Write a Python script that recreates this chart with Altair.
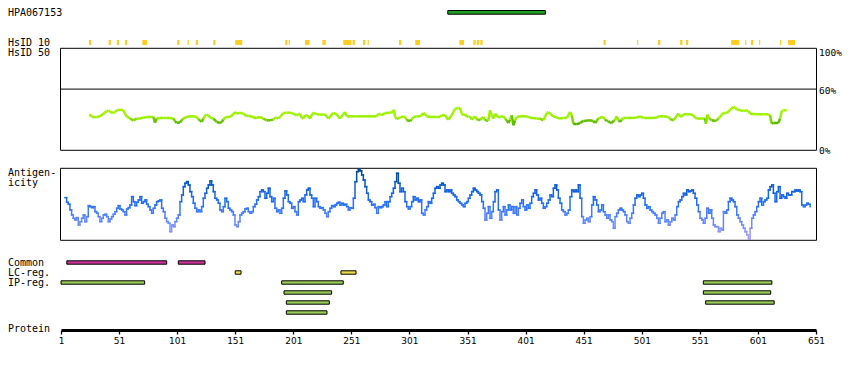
import altair as alt
import numpy as np
import pandas as pd

# ---------------- data ----------------
tick_values = [1, 51, 101, 151, 201, 251, 301, 351, 401, 451, 501, 551, 601, 651]

hpa_name = "HPA067153"
hpa_start, hpa_end = 334, 418

hsid10_start = [25, 42, 49, 56, 71, 101, 110, 117, 132, 151, 194, 197, 211, 226, 244, 252, 261, 265,
                292, 306, 344, 356, 359, 362, 468, 497, 515, 534, 539, 578, 590, 595, 602, 620, 627]
hsid10_end = [27, 44, 51, 58, 75, 103, 111, 119, 134, 157, 196, 198, 215, 229, 251, 254, 263, 266,
              294, 310, 348, 358, 361, 364, 470, 498, 517, 536, 541, 585, 591, 597, 603, 621, 633]

identity_pos = [
    25.4, 27.4, 30.3, 31.7, 34.6, 37.5, 40.3, 41.8, 43.2, 46.1, 47.5, 48.9, 51.8, 54.7, 56.1, 57.5,
    60.4, 63.3, 66.2, 69.0, 71.9, 74.8, 77.6, 80.5, 81.9, 83.4, 86.2, 89.1, 92.0, 94.8, 97.7, 99.2,
    100.6, 103.5, 104.9, 106.3, 109.2, 112.1, 115.0, 117.8, 119.2, 120.7, 122.1, 123.6, 125.0, 126.4,
    127.9, 129.3, 132.2, 135.0, 137.9, 139.3, 140.8, 142.2, 143.6, 146.5, 149.4, 150.8, 152.2, 155.1,
    158.0, 160.9, 162.3, 163.7, 166.6, 168.0, 169.5, 172.3, 175.2, 178.1, 181.0, 183.8, 185.3, 186.7,
    188.1, 189.6, 192.4, 195.3, 198.2, 201.0, 203.9, 206.8,
    208.2, 209.6, 211.1, 212.5, 214.0, 215.4, 216.8, 218.3, 221.1, 224.0,
    226.9, 228.3, 229.7, 231.2, 232.6, 234.1, 235.5, 238.4, 239.8, 241.2,
    242.7, 244.1, 245.5, 247.0, 255.6, 272.8, 274.2, 275.7, 277.1, 280.0,
    284.3, 287.1, 287.7, 288.6, 290.0, 292.9, 295.8, 297.2, 298.6, 301.5,
    302.9, 304.4, 307.2, 310.1, 311.5, 313.0, 314.4, 315.8, 318.7, 324.4,
    327.3, 328.7, 331.6, 333.1, 334.5, 335.9, 337.4, 338.8, 340.2, 343.1,
    344.5, 346.0, 347.4, 348.8, 350.3, 351.7, 353.1, 354.6, 356.0, 357.5,
    358.9, 360.3, 361.8, 363.2, 364.6, 366.1, 367.5, 368.9, 370.4, 371.8,
    373.2, 374.7, 376.1, 377.5, 379.0, 381.9, 383.3, 384.7, 386.2, 387.6,
    389.0, 390.5, 391.9, 393.3, 396.2, 402.0, 403.4, 404.8, 410.6, 413.4,
    416.3, 417.7, 419.2, 420.6, 422.0, 424.9, 427.8, 430.6,
    433.5, 436.4, 437.8, 439.3, 440.7, 442.1, 445.0, 447.9, 450.7, 456.5,
    459.3, 460.8, 462.2, 463.6, 465.1, 467.9, 469.4, 470.8, 472.3, 473.7,
    475.1, 476.6, 478.0, 479.4, 480.9, 482.3, 483.7, 485.2, 488.0, 496.6,
    499.5, 502.4, 508.1, 513.9, 515.3, 519.6, 523.9, 525.3, 526.8, 528.2,
    529.7, 531.1, 532.5, 534.0, 535.4, 536.8, 542.6, 545.4, 546.9, 548.3,
    555.5, 556.3, 557.5, 559.2, 561.2, 564.1, 565.5, 566.9, 568.4, 569.8,
    571.3, 574.1, 575.6, 577.0, 578.4, 579.9, 581.3, 582.8, 585.6, 588.5,
    591.4, 592.8, 594.2, 600.0, 605.7, 610.0, 611.4, 612.9, 614.3, 618.6,
    620.1, 621.5, 622.9, 625.8,
]
identity_pct = [
    35.0, 33.3, 32.0, 32.7, 33.3, 35.9, 38.2, 39.2, 37.6, 36.6, 37.6, 39.2, 39.9, 39.2, 35.9, 33.3,
    31.1, 29.4, 31.1, 31.1, 32.0, 32.7, 32.7, 32.7, 27.0, 31.1, 31.7, 31.7, 31.7, 31.7, 31.1, 28.8,
    26.8, 27.4, 29.4, 31.1, 32.7, 33.3, 33.3, 32.7, 30.4, 29.4, 27.8, 31.1, 34.3, 35.0,
    34.3, 32.0, 31.1, 27.8, 26.8, 27.8, 30.1, 32.0, 32.7, 32.7, 35.3, 37.6, 35.9, 36.9,
    35.9, 33.3, 34.3, 33.3, 32.7, 31.1, 32.0, 32.7, 31.1, 29.4, 29.4, 30.1, 32.0, 32.0,
    31.1, 32.7, 36.6, 36.9, 36.9, 35.9, 34.3, 35.9,
    32.0, 31.1, 34.3, 34.3, 33.3, 31.1, 34.3, 36.9, 35.3, 35.0,
    35.0, 35.0, 33.3, 31.1, 32.7, 35.3, 36.6, 35.3, 32.7, 31.1,
    33.3, 35.3, 37.6, 33.3, 33.3, 33.3, 35.9, 35.3, 34.3, 36.6,
    36.9, 37.6, 39.9, 32.7, 30.7, 32.0, 33.3, 32.7, 29.4, 28.8,
    30.1, 32.7, 33.3, 33.3, 34.3, 36.6, 35.3, 33.3, 32.7, 32.7,
    32.7, 34.3, 34.3, 32.0, 30.1, 32.0, 34.3, 37.6, 40.8, 41.5,
    41.5, 35.9, 34.3, 35.3, 33.3, 32.7, 33.3, 30.1, 31.7, 33.3,
    30.7, 29.4, 30.1, 31.1, 32.7, 29.4, 29.4, 28.8, 39.2, 34.3,
    31.1, 35.9, 34.3, 32.0, 32.7, 33.3, 31.1, 29.4, 26.8, 30.1,
    34.3, 24.5, 29.4, 32.7, 33.3, 33.3, 32.7, 32.0, 31.1, 31.1,
    29.4, 32.7, 36.6, 37.6, 35.9, 33.3, 32.0, 31.1,
    31.7, 31.7, 34.3, 37.6, 34.3, 26.1, 25.5, 26.8, 28.8, 29.4,
    28.8, 26.8, 28.8, 31.1, 32.0, 32.7, 30.1, 28.8, 28.8, 26.8,
    26.8, 28.8, 29.4, 33.3, 29.4, 27.8, 30.1, 31.7, 31.7, 32.0,
    33.3, 31.7, 31.7, 32.0, 33.3, 33.3, 32.7, 31.1, 29.4, 30.1,
    31.1, 34.3, 35.9, 33.3, 32.7, 35.3, 35.3, 34.3, 32.0, 31.1,
    31.1, 26.1, 35.0, 31.1, 29.4, 28.8, 29.4, 31.1, 32.7, 35.0,
    36.6, 36.6, 37.6, 39.9, 40.8, 42.5, 41.8, 39.9, 39.2, 38.6,
    39.2, 38.6, 35.9, 35.3, 35.3, 35.3, 34.3, 26.1, 26.8, 26.8,
    31.1, 38.6, 39.2, 39.2,
]

# antigenicity profile (arbitrary units), sampled evenly from residue 4.4 to 645.9
antigen_first, antigen_last = 4.4, 645.9
antigen_values = [
    128, 114, 108, 91, 76, 66, 61, 68, 46, 56, 66, 76, 56, 71, 104, 101, 98, 101, 86, 81,
    71, 56, 66, 76, 78, 71, 56, 64, 71, 78, 86, 96, 104, 94, 91, 86, 76, 94, 98, 106,
    131, 116, 104, 114, 121, 131, 111, 116, 121, 108, 101, 91, 81, 96, 106, 116, 118, 121, 96, 86,
    66, 56, 51, 26, 46, 41, 56, 66, 76, 116, 136, 161, 171, 176, 166, 146, 131, 111, 96, 86,
    91, 86, 101, 126, 141, 156, 166, 178, 166, 146, 126, 121, 111, 91, 86, 101, 126, 116, 96, 91,
    86, 76, 46, 41, 56, 76, 81, 86, 94, 96, 86, 81, 86, 101, 108, 121, 131, 146, 151, 146,
    126, 141, 156, 131, 116, 126, 96, 86, 91, 81, 96, 126, 148, 136, 116, 111, 96, 101, 86, 76,
    116, 121, 126, 116, 136, 151, 156, 136, 126, 101, 126,
    116, 101, 96, 98, 91, 81, 71, 86, 96, 104, 101, 106, 111, 114, 106, 111, 106, 108, 101, 91,
    98, 96, 126, 176, 206, 214, 208, 196, 181, 161, 141, 121, 116, 106, 108, 98, 81, 101, 98, 101,
    106, 116, 101, 116, 131, 141, 156, 176, 201, 171, 146, 156, 146, 116, 101, 94, 101, 116, 131, 121,
    126, 116, 121, 81, 76, 91, 101, 116, 111, 126, 141, 156, 161, 156, 166, 171, 166, 146, 151, 146,
    151, 141, 136, 131, 121, 116, 111, 106, 101, 111, 116, 126, 136, 146, 156, 151, 146, 141, 136, 116,
    96, 61, 81, 101, 66, 86, 116, 146, 151, 91, 61, 86, 101, 76, 91, 106, 91, 101, 81, 101,
    76, 96, 111, 121, 101, 91, 106, 96, 111, 131, 141, 151, 136, 121, 126, 111, 96, 101, 111, 121,
    136, 131, 156, 166, 151, 126, 111, 91, 86, 76,
    81, 91, 131, 151, 146, 151, 146, 166, 126, 71, 51, 61, 66, 56, 71, 106, 131, 121, 106, 86,
    91, 106, 86, 76, 66, 76, 61, 56, 36, 71, 81, 91, 96, 91, 86, 76, 56, 51, 66, 81,
    106, 126, 136, 131, 136, 141, 126, 106, 96, 101, 91, 86, 81, 76, 66, 51, 66, 81, 86, 56,
    61, 46, 56, 66, 61, 76, 101, 116, 121, 131, 141, 136, 151, 146, 148, 151, 141, 126, 106, 86,
    66, 61, 51, 66, 96, 81, 91, 66, 46, 41, 41, 26, 36, 31, 86, 81, 91, 116, 126, 121,
    116, 101, 76, 66, 56, 46, 36, 26, 16, 4, 36, 66, 76, 86, 101, 116, 126, 106, 116, 121,
    126, 151, 161, 166, 141, 116, 146, 161, 126, 136, 131, 126, 141, 136, 136, 146, 146, 151, 148, 151,
    146, 106, 101, 106, 111, 108, 101,
]

ann_track = ["Common", "Common", "LC-reg.", "LC-reg.", "IP-reg.", "IP-reg.", "IP-reg.",
             "IP-reg.", "IP-reg.", "IP-reg.", "IP-reg.", "IP-reg."]
ann_row = [0, 0, 1, 1, 2, 2, 2, 3, 3, 4, 4, 5]
ann_start = [6, 102, 151, 242, 1, 191, 554, 193, 554, 195, 556, 195]
ann_end = [92, 125, 156, 255, 73, 244, 613, 234, 612, 232, 615, 230]

# ---------------- layout / style ----------------
W, H = 755, 322
MONO = "DejaVu Sans Mono"
XS = alt.Scale(domain=[1, 651], nice=False, zero=False)
XAX = alt.Axis(values=tick_values, title=None, grid=False, domainWidth=3, domainColor="black",
               tickColor="black", tickSize=4, tickWidth=1.3, labelFont="DejaVu Sans",
               labelFontSize=9, labelColor="black", labelPadding=2.5, labelFlush=False,
               labelOverlap=False)


def X(field):
    return alt.X(field, type="quantitative", scale=XS, axis=XAX)


ID_SCALE = alt.Scale(domain=[0, 100], range=[142.3, 40.3])
AG_SCALE = alt.Scale(domain=[0, 216], range=[232.3, 160.3])


def segments(x, y):
    x = np.asarray(x, dtype=float)
    y = np.asarray(y, dtype=float)
    df = pd.DataFrame({"x": x[:-1], "x2": x[1:], "y": y[:-1], "y2": y[1:]})
    df["c"] = (df["y"] + df["y2"]) / 2
    return df


def step_segments(x, y):
    # horizontal-then-vertical step path, as one rule per piece
    x = np.asarray(x, dtype=float)
    y = np.asarray(y, dtype=float)
    hor = pd.DataFrame({"x": x[:-1], "x2": x[1:], "y": y[:-1], "y2": y[:-1], "c": y[:-1]})
    ver = pd.DataFrame({"x": x[1:], "x2": x[1:], "y": y[:-1], "y2": y[1:],
                        "c": (y[:-1] + y[1:]) / 2})
    return pd.concat([hor, ver], ignore_index=True)


one = pd.DataFrame({"k": [0]})
layers = []

# HPA antigen bar
hpa_df = pd.DataFrame({"s": [hpa_start], "e": [hpa_end]})
layers.append(alt.Chart(hpa_df).mark_rect(fill="#1f9f1f", stroke="black", strokeWidth=1).encode(
    x=X("s"), x2="e", y=alt.value(2.5), y2=alt.value(6.2)))

# HsID 10 ticks
hs_df = pd.DataFrame({"s": hsid10_start, "e": hsid10_end})
layers.append(alt.Chart(hs_df).mark_rect(fill="#ffcc22").encode(
    x=X("s"), x2="e", y=alt.value(32), y2=alt.value(37)))

# identity box + 60% line
layers.append(alt.Chart(one).mark_rect(fillOpacity=0, stroke="black", strokeWidth=1).encode(
    x=alt.value(-0.5), x2=alt.value(W + 0.5), y=alt.value(40.3), y2=alt.value(142.3)))
layers.append(alt.Chart(one).mark_rule(color="black", strokeWidth=1).encode(
    x=alt.value(-0.5), x2=alt.value(W + 0.5), y=alt.Y(datum=60, scale=ID_SCALE, axis=None)))

# identity line
id_df = segments(identity_pos, identity_pct)
layers.append(alt.Chart(id_df).mark_rule(strokeWidth=2.5).encode(
    x=X("x"), x2="x2",
    y=alt.Y("y:Q", scale=ID_SCALE, axis=None), y2="y2",
    color=alt.Color("c:Q", legend=None,
                    scale=alt.Scale(domain=[24, 29.5, 31, 45],
                                    range=["#55aa00", "#66c400", "#99f000", "#a8f800"]))))

# antigenicity box + line
layers.append(alt.Chart(one).mark_rect(fillOpacity=0, stroke="black", strokeWidth=1).encode(
    x=alt.value(-0.5), x2=alt.value(W + 0.5), y=alt.value(160.3), y2=alt.value(232.3)))
ag_pos = np.linspace(antigen_first, antigen_last, len(antigen_values))
ag_df = step_segments(ag_pos, antigen_values)
layers.append(alt.Chart(ag_df).mark_rule(strokeWidth=1.5, strokeCap="square").encode(
    x=X("x"), x2="x2",
    y=alt.Y("y:Q", scale=AG_SCALE, axis=None), y2="y2",
    color=alt.Color("c:Q", legend=None,
                    scale=alt.Scale(domain=[0, 50, 100, 150, 216],
                                    range=["#b0a0ff", "#6a8cff", "#2a74ff", "#1060e0", "#08428a"]))))

# annotation tracks
ann_df = pd.DataFrame({"track": ann_track, "row": ann_row, "s": ann_start, "e": ann_end})
layers.append(alt.Chart(ann_df).mark_bar(stroke="black", strokeWidth=1).encode(
    x=X("s"), x2="e",
    y=alt.Y("row:O", axis=None,
            scale=alt.Scale(domain=[0, 1, 2, 3, 4, 5], range=[249.5, 309.5],
                            paddingInner=0.66, paddingOuter=0.33)),
    color=alt.Color("track:N", legend=None,
                    scale=alt.Scale(domain=["Common", "LC-reg.", "IP-reg."],
                                    range=["#cc3399", "#eedd44", "#99cc55"]))))

# texts
left_labels = [(hpa_name, 8.0), ("HsID 10", 37.7), ("HsID 50", 48.0), ("Antigen-", 167.7),
               ("icity", 177.7), ("Common", 258.0), ("LC-reg.", 268.4), ("IP-reg.", 278.4),
               ("Protein", 324.4)]
for txt, ypos in left_labels:
    layers.append(alt.Chart(pd.DataFrame({"t": [txt]})).mark_text(
        font=MONO, fontSize=10, align="left", baseline="alphabetic", color="black").encode(
        text="t:N", x=alt.value(-53), y=alt.value(ypos)))

right_labels = [("100%", 48.0), ("60%", 86.0), ("0%", 146.0)]
for txt, ypos in right_labels:
    layers.append(alt.Chart(pd.DataFrame({"t": [txt]})).mark_text(
        font=MONO, fontSize=9.5, align="left", baseline="alphabetic", color="black").encode(
        text="t:N", x=alt.value(W + 3), y=alt.value(ypos)))

chart = alt.layer(*layers).resolve_scale(y="independent", color="independent").properties(
    width=W, height=H, padding={"left": 0, "top": 0, "right": 0, "bottom": 5},
    background="white").configure_view(stroke=None)

chart.save("out.html", embed_options={"renderer": "svg", "actions": False})
